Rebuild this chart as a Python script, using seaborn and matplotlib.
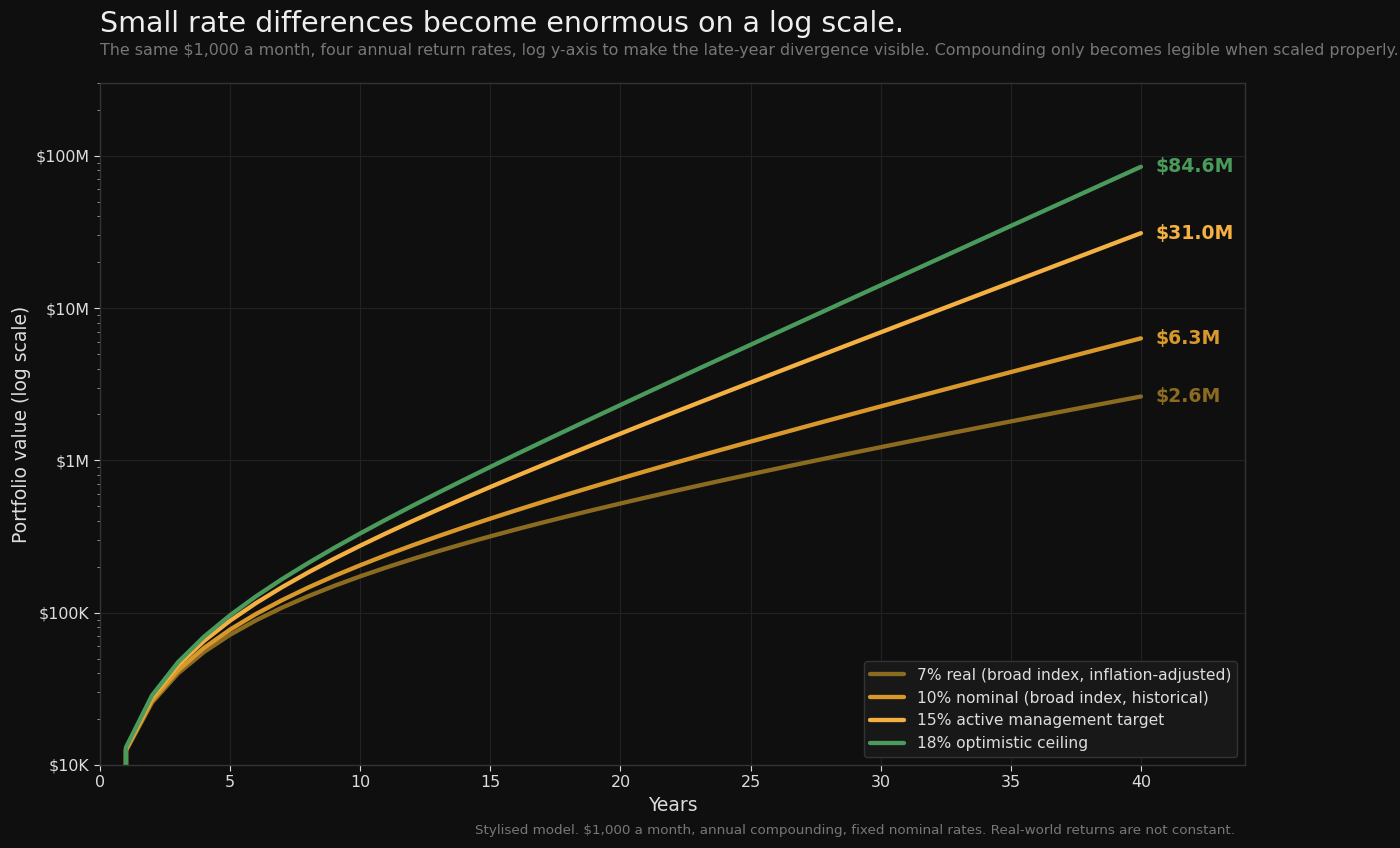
import pandas as pd
import numpy as np
import matplotlib
matplotlib.use("Agg")
import matplotlib.pyplot as plt
import seaborn as sns
from matplotlib.ticker import FuncFormatter

# years and portfolio values (in $K)
years = list(range(0, 41))

real_7 = [0, 12.39, 25.68, 39.93, 55.21, 71.59, 89.16, 108.0, 128.2, 149.9, 173.1,
          198.0, 224.7, 253.3, 284.0, 317.0, 352.3, 390.1, 430.7, 474.3, 520.9,
          571.0, 624.7, 682.2, 743.9, 810.1, 881.0, 957.1, 1038.7, 1126.2, 1220.0,
          1320.6, 1428.4, 1544.1, 1668.1, 1801.1, 1943.7, 2096.6, 2260.5, 2436.3, 2624.8]

nominal_10 = [0, 12.57, 26.45, 41.78, 58.72, 77.44, 98.11, 120.9, 146.2, 174.1, 204.8,
              238.9, 276.4, 317.9, 363.8, 414.5, 470.4, 532.3, 600.6, 676.0, 759.4,
              851.4, 953.1, 1065.5, 1189.7, 1326.8, 1478.2, 1645.6, 1830.5, 2034.7, 2260.3,
              2509.6, 2784.9, 3089.1, 3425.1, 3796.4, 4206.5, 4659.5, 5160.0, 5712.9, 6323.6]

active_15 = [0, 12.86, 27.79, 45.12, 65.23, 88.57, 115.7, 147.1, 183.6, 226.0, 275.2,
             332.3, 398.6, 475.5, 564.9, 668.5, 788.8, 928.5, 1090.6, 1278.8, 1497.3,
             1750.8, 2045.1, 2386.8, 2783.3, 3243.6, 3777.9, 4398.1, 5118.0, 5953.5, 6923.5,
             8049.3, 9356.2, 10873, 12634, 14678, 17050, 19804, 23000, 26711, 31017]

optimistic_18 = [0, 13.04, 28.63, 47.28, 69.56, 96.21, 128.1, 166.2, 211.7, 266.2, 331.3,
                 409.1, 502.2, 613.5, 746.5, 905.6, 1095.8, 1323.2, 1595.1, 1920.2, 2308.8,
                 2773.5, 3329.1, 3993.4, 4787.6, 5737.2, 6872.6, 8230.0, 9853.0, 11793, 14113,
                 16887, 20204, 24169, 28910, 34579, 41356, 49459, 59147, 70730, 84578]

labels = ["7% real (broad index, inflation-adjusted)",
          "10% nominal (broad index, historical)",
          "15% active management target",
          "18% optimistic ceiling"]
end_labels = ["$2.6M", "$6.3M", "$31.0M", "$84.6M"]
colors = ["#8b6b1f", "#d9982a", "#f5b042", "#4a9a5c"]

df = pd.DataFrame({"Years": years, labels[0]: real_7, labels[1]: nominal_10,
                   labels[2]: active_15, labels[3]: optimistic_18})
long = df.melt(id_vars="Years", var_name="series", value_name="value_k")
long["value"] = long["value_k"] * 1000

bg = "#0f0f0f"
sns.set_style("dark")
plt.rcParams["font.family"] = ["DejaVu Sans"]

fig = plt.figure(figsize=(14, 8.48), dpi=100, facecolor=bg)
ax = fig.add_axes([0.0714, 0.0979, 0.8179, 0.8042])
ax.set_facecolor(bg)

ax.set_yscale("log")
sns.lineplot(data=long, x="Years", y="value", hue="series", hue_order=labels,
             palette=colors, linewidth=3.1, ax=ax)

ax.set_xlim(0, 44)
ax.set_ylim(1e4, 3e8)

def money(v, pos):
    if v >= 1e6:
        return "$%dM" % round(v / 1e6)
    return "$%dK" % round(v / 1e3)

ax.yaxis.set_major_formatter(FuncFormatter(money))
ax.yaxis.set_minor_formatter(FuncFormatter(lambda v, p: ""))
ax.set_xticks([0, 5, 10, 15, 20, 25, 30, 35, 40])

ax.grid(True, which="major", color="#222222", linewidth=0.8)
ax.tick_params(axis="both", which="major", colors="#dddddd", labelsize=11.4, length=4)
ax.tick_params(axis="y", which="minor", colors="#aaaaaa", length=2, left=True)
ax.tick_params(axis="x", bottom=True)
ax.tick_params(axis="y", left=True)
for s in ax.spines.values():
    s.set_color("#333333")
    s.set_linewidth(1)

ax.set_xlabel("Years", color="#dddddd", fontsize=13.5)
ax.set_ylabel("Portfolio value (log scale)", color="#dddddd", fontsize=13.5, labelpad=3)

# end labels
for lab, txt, c in zip(labels, end_labels, colors):
    v = df[lab].iloc[-1] * 1000
    ax.text(40.55, v, txt, color=c, fontsize=13.6, fontweight="bold", va="center", ha="left")

leg = ax.legend(loc="lower right", fontsize=11.2, facecolor="#181818", edgecolor="#333333",
                framealpha=1, handlelength=2.2)
for t in leg.get_texts():
    t.set_color("#dddddd")
leg.get_title().set_visible(False)

fig.text(0.0714, 0.972, "Small rate differences become enormous on a log scale.",
         color="#eeeeee", fontsize=20.5, va="center", ha="left")
fig.text(0.0714, 0.941, "The same $1,000 a month, four annual return rates, log y-axis to make the "
         "late-year divergence visible. Compounding only becomes legible when scaled properly.",
         color="#777777", fontsize=11.4, va="center", ha="left")
fig.text(0.882, 0.021, "Stylised model. $1,000 a month, annual compounding, fixed nominal rates. "
         "Real-world returns are not constant.", color="#777777", fontsize=9.7, va="center", ha="right")

fig.savefig("out.png", dpi=100, facecolor=bg)
